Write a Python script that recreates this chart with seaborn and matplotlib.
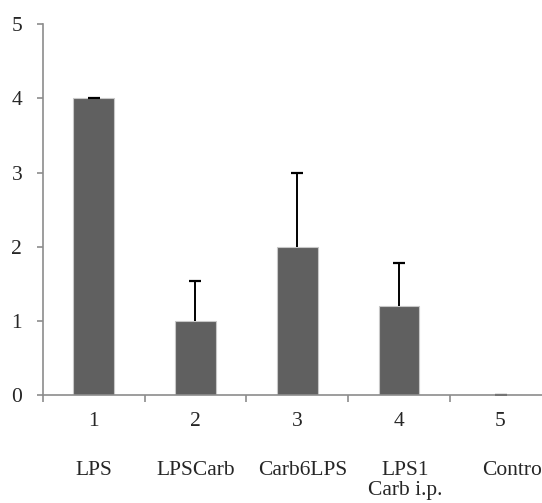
import numpy as np
import pandas as pd
import seaborn as sns
import matplotlib.pyplot as plt

# values
numbers = ['1', '2', '3', '4', '5']
groups = ['LPS', 'LPSCarb', 'Carb6LPS', 'LPS1\nCarb i.p.', 'Control']
means = [4.0, 1.0, 2.0, 1.2, 0.01]
errors = [0.005, 0.54, 1.0, 0.58, 0.0]
# the group labels sit a little right of the bar centres in the reference
label_shift = [0.0, 0.0, 0.05, 0.06, 0.14]

df = pd.DataFrame({'num': numbers, 'value': means})

sns.set_style('white')
plt.rcParams['font.family'] = ['Liberation Serif', 'DejaVu Serif']

fig = plt.figure(figsize=(5.42, 5.03), dpi=100)
ax = fig.add_axes([0.0793, 0.2141, 0.938, 0.7382])

sns.barplot(data=df, x='num', y='value', color='#606060', width=0.4,
            edgecolor='#c8c8c8', linewidth=0.8, saturation=1, ax=ax)

xs = np.arange(len(numbers))
tops = np.array(means) + np.array(errors)
# upper error only: stem plus a single cap
ax.vlines(xs, means, tops, color='black', linewidth=1.4)
ax.plot(xs, tops, linestyle='none', marker='_', markersize=9,
        markeredgewidth=1.6, color='black')

ax.set_xlim(-0.5, len(numbers) - 0.5)
ax.set_ylim(0, 5)
ax.set_yticks([0, 1, 2, 3, 4, 5])
ax.set_xlabel('')
ax.set_ylabel('')

for side in ['top', 'right']:
    ax.spines[side].set_visible(False)
for side in ['left', 'bottom']:
    ax.spines[side].set_color('#8c8c8c')
    ax.spines[side].set_linewidth(1.2)

ax.tick_params(axis='y', which='major', direction='out', length=4, width=1.2,
               color='#8c8c8c', labelsize=15.5, pad=11, left=True)
ax.tick_params(axis='x', which='major', length=0, labelsize=15.5, pad=12)
ax.set_xticks(np.arange(-0.5, len(numbers)), minor=True)
ax.tick_params(axis='x', which='minor', direction='out', length=5, width=1.2,
               color='#8c8c8c', bottom=True)

for i, g in enumerate(groups):
    ax.text(i + label_shift[i], -0.178, g, transform=ax.get_xaxis_transform(),
            ha='center', va='top', fontsize=15.5, linespacing=1.05)

fig.savefig('out.png', dpi=100)
